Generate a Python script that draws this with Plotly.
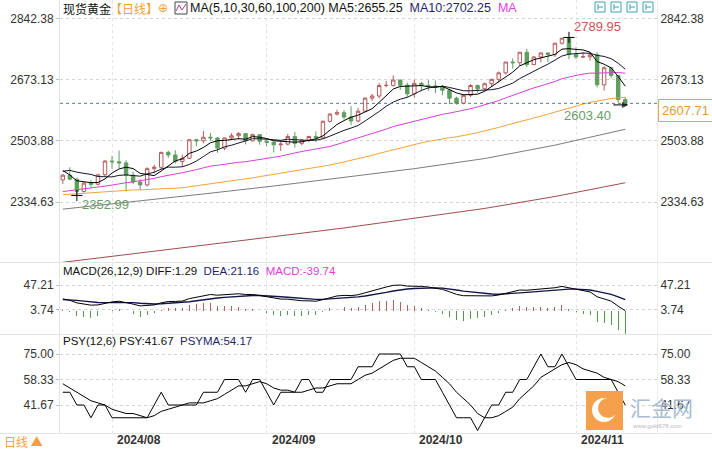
import numpy as np
import pandas as pd
import plotly.graph_objects as go

# ---------------- data ----------------
dates = ["2024-07-23", "2024-07-24", "2024-07-25", "2024-07-26", "2024-07-29", "2024-07-30", "2024-07-31",
         "2024-08-01", "2024-08-02", "2024-08-05", "2024-08-06", "2024-08-07", "2024-08-08", "2024-08-09",
         "2024-08-12", "2024-08-13", "2024-08-14", "2024-08-15", "2024-08-16", "2024-08-19", "2024-08-20",
         "2024-08-21", "2024-08-22", "2024-08-23", "2024-08-26", "2024-08-27", "2024-08-28", "2024-08-29",
         "2024-08-30",
         "2024-09-02", "2024-09-03", "2024-09-04", "2024-09-05", "2024-09-06", "2024-09-09", "2024-09-10",
         "2024-09-11", "2024-09-12", "2024-09-13", "2024-09-16", "2024-09-17", "2024-09-18", "2024-09-19",
         "2024-09-20", "2024-09-23", "2024-09-24", "2024-09-25", "2024-09-26", "2024-09-27", "2024-09-30",
         "2024-10-01", "2024-10-02", "2024-10-03", "2024-10-04", "2024-10-07", "2024-10-08", "2024-10-09",
         "2024-10-10", "2024-10-11", "2024-10-14", "2024-10-15", "2024-10-16", "2024-10-17", "2024-10-18",
         "2024-10-21", "2024-10-22", "2024-10-23", "2024-10-24", "2024-10-25", "2024-10-28", "2024-10-29",
         "2024-10-30", "2024-10-31",
         "2024-11-01", "2024-11-04", "2024-11-05", "2024-11-06", "2024-11-07", "2024-11-08", "2024-11-11",
         "2024-11-12"]

opens = [2396, 2409, 2398, 2364, 2387, 2384, 2410,
         2448, 2446, 2443, 2409, 2390, 2382, 2427, 2431, 2472, 2465, 2447, 2456, 2507, 2504, 2514,
         2512, 2484, 2512, 2518, 2524, 2504, 2521,
         2503, 2500, 2493, 2495, 2516, 2497, 2506, 2516, 2512, 2558, 2578, 2582, 2570, 2559, 2586,
         2622, 2628, 2657, 2657.5, 2672, 2658,
         2634, 2663, 2657, 2656, 2653, 2644, 2622, 2608, 2630, 2657, 2648, 2662, 2674, 2692, 2722,
         2720, 2749, 2715, 2736, 2747, 2743, 2774, 2788,
         2743, 2736, 2736.5, 2742, 2659, 2706, 2685, 2618]

highs = [2412, 2431, 2402, 2390, 2395, 2413, 2451,
         2462, 2477, 2450, 2419, 2398, 2431, 2438, 2474, 2477, 2478, 2466, 2509, 2510, 2531, 2526,
         2514, 2513, 2525, 2528, 2525, 2524, 2523,
         2507, 2504, 2503, 2523, 2529, 2509, 2518, 2530, 2560, 2581, 2590, 2589, 2600, 2595, 2625,
         2634, 2664, 2670, 2685, 2674, 2665,
         2673, 2667, 2672, 2671, 2659, 2649, 2626, 2633, 2661, 2660, 2665, 2676, 2696, 2722, 2732,
         2749, 2758, 2738, 2749, 2748, 2775, 2786, 2789.95,
         2763, 2750, 2750, 2749, 2710, 2709, 2686, 2625]

lows = [2385, 2395, 2352.99, 2361, 2375, 2380, 2405,
        2427, 2428, 2364, 2384, 2368, 2378, 2414, 2424, 2457, 2441, 2432, 2453, 2489, 2497, 2503,
        2471, 2478, 2506, 2507, 2494, 2502, 2493,
        2489, 2472, 2476, 2491, 2485, 2491, 2500, 2500, 2511, 2555, 2574, 2563, 2547, 2555, 2583,
        2614, 2621, 2652, 2654, 2645, 2625,
        2624, 2641, 2642, 2636, 2630, 2606, 2604, 2605, 2625, 2637, 2643, 2654, 2666, 2687, 2704,
        2712, 2708, 2713, 2721, 2722, 2736, 2770, 2730,
        2730, 2733, 2726, 2652, 2643, 2678, 2610, 2603.40]

closes = [2409, 2398, 2364, 2387, 2384, 2410, 2448,
          2446, 2443, 2409, 2390, 2382, 2427, 2431, 2472, 2465, 2447, 2456, 2507, 2504, 2514, 2512,
          2484, 2512, 2518, 2524, 2504, 2521, 2503,
          2500, 2493, 2495, 2516, 2497, 2506, 2516, 2512, 2558, 2578, 2582, 2570, 2559, 2586, 2622,
          2628, 2657, 2657.5, 2672, 2658, 2634,
          2663, 2657, 2656, 2653, 2644, 2622, 2608, 2630, 2657, 2648, 2662, 2674, 2692, 2722, 2720,
          2749, 2715, 2736, 2747, 2743, 2774, 2788, 2743,
          2736, 2736.5, 2742, 2659, 2706, 2685, 2618, 2607.71]

# closes before the visible window (2024-04-22 .. 2024-07-22), needed for the indicators
prior_closes = [2327, 2322, 2316, 2332, 2337, 2335, 2286,
                2320, 2303, 2301, 2323, 2314, 2309, 2346, 2360, 2336, 2358, 2386, 2376, 2415, 2425,
                2420, 2379, 2329, 2334, 2350, 2361, 2338, 2343, 2327,
                2350, 2327, 2355, 2376, 2294, 2311, 2316, 2324, 2304, 2333, 2319, 2330, 2328, 2360,
                2322, 2334, 2319, 2298, 2327, 2326,
                2332, 2330, 2356, 2356, 2392, 2359, 2364, 2371, 2415, 2411, 2422, 2469, 2459, 2445,
                2400, 2396]

# long moving averages (candle index -> value)
ma100_at = [0, 10, 20, 30, 40, 50, 60, 70, 80]
ma100_vals = [2315, 2335, 2357, 2379, 2402, 2427, 2455, 2492, 2536]
ma200_at = [0, 10, 20, 30, 40, 50, 60, 70, 80]
ma200_vals = [2168, 2191, 2215, 2239, 2263, 2289, 2317, 2350, 2388]

price_ticks = [2334.63, 2503.88, 2673.13, 2842.38]
macd_ticks = [3.74, 47.21]
psy_ticks = [41.67, 58.33, 75.00]
last_price = 2607.71
high_mark = 2789.95
low_mark = 2352.99
last_low_mark = 2603.40
ma5_label, ma10_label = 2655.25, 2702.25
diff_label, dea_label, macd_label = 1.29, 21.16, -39.74
psy_label, psyma_label = 41.67, 54.17

# ---------------- indicators ----------------
n_prior = len(prior_closes)
allc = pd.Series(prior_closes + closes, dtype=float)
def sma(n):
    return allc.rolling(n).mean().iloc[n_prior:].to_numpy()
ma5, ma10, ma30, ma60 = sma(5), sma(10), sma(30), sma(60)
ema12 = allc.ewm(span=12, adjust=False).mean()
ema26 = allc.ewm(span=26, adjust=False).mean()
diff_s = ema12 - ema26
dea_s = diff_s.ewm(span=9, adjust=False).mean()
macd_s = 2 * (diff_s - dea_s)
up_s = (allc.diff() > 0).astype(float)
psy_s = up_s.rolling(12).sum() / 12 * 100
psyma_s = psy_s.rolling(6).mean()
diff_v = diff_s.iloc[n_prior:].to_numpy()
dea_v = dea_s.iloc[n_prior:].to_numpy()
macd_v = macd_s.iloc[n_prior:].to_numpy()
psy_v = psy_s.iloc[n_prior:].to_numpy()
psyma_v = psyma_s.iloc[n_prior:].to_numpy()

xi = np.arange(len(closes))
dd = pd.to_datetime(dates)
month_idx = [i for i in range(1, len(dd)) if dd[i].month != dd[i - 1].month]
month_lbl = [dd[i].strftime("%Y/%m") for i in month_idx]

# ---------------- geometry helpers ----------------
W, H = 712, 450
L, R, T, B = 60, 55, 0, 16
PW, PH = W - L - R, H - T - B
def px(x):
    return (x - L) / PW
def py(y):
    return (PH - (y - T)) / PH

X_RANGE = [-0.4, 84.52]
MAIN_RANGE = [2168.86, 2893.55]
MACD_RANGE = [-40.45, 86.57]
PSY_RANGE = [22.72, 87.42]

UP = "#b75b5b"
DN = "#5f9e5f"
NUM_FONT = "Liberation Sans, Arial, sans-serif"
CJK_FONT = "Noto Sans CJK SC, sans-serif"
GRID = "#d4d4d4"
NAVY = "#1f1f6e"
MAG = "#e040e0"
SP = "\u00a0"

fig = go.Figure()

fig.add_trace(go.Candlestick(
    x=xi, open=opens, high=highs, low=lows, close=closes,
    increasing=dict(line=dict(color=UP, width=1), fillcolor="white"),
    decreasing=dict(line=dict(color=DN, width=1), fillcolor=DN),
    whiskerwidth=0, hoverinfo="skip", xaxis="x", yaxis="y"))

fig.add_trace(go.Scatter(x=ma200_at, y=ma200_vals, mode="lines", line=dict(color="#a24c4c", width=1),
                         hoverinfo="skip", xaxis="x", yaxis="y"))
fig.add_trace(go.Scatter(x=ma100_at, y=ma100_vals, mode="lines", line=dict(color="#7d7d7d", width=1),
                         hoverinfo="skip", xaxis="x", yaxis="y"))
fig.add_trace(go.Scatter(x=xi, y=ma60, mode="lines", line=dict(color="#efa43a", width=1),
                         hoverinfo="skip", xaxis="x", yaxis="y"))
fig.add_trace(go.Scatter(x=xi, y=ma30, mode="lines", line=dict(color="#d63fd6", width=1),
                         hoverinfo="skip", xaxis="x", yaxis="y"))
fig.add_trace(go.Scatter(x=xi, y=ma10, mode="lines", line=dict(color="#161630", width=1),
                         hoverinfo="skip", xaxis="x", yaxis="y"))
fig.add_trace(go.Scatter(x=xi, y=ma5, mode="lines", line=dict(color="#000000", width=1),
                         hoverinfo="skip", xaxis="x", yaxis="y"))

# high / low markers
hi_i = int(np.argmax(highs))
lo_i = int(np.argmin(lows))
fig.add_trace(go.Scatter(x=[hi_i, lo_i], y=[highs[hi_i], lows[lo_i]], mode="markers",
                         marker=dict(symbol="cross-thin", size=8, line=dict(color="#000", width=1)),
                         hoverinfo="skip", xaxis="x", yaxis="y"))
last_i = len(closes) - 1
fig.add_trace(go.Scatter(x=[last_i - 1.6, last_i + 0.3], y=[last_low_mark, last_low_mark], mode="lines+markers",
                         line=dict(color="#000", width=1),
                         marker=dict(symbol=["line-ns", "arrow-right"], size=[1, 5], color="#000",
                                     line=dict(color="#000", width=1)),
                         hoverinfo="skip", xaxis="x", yaxis="y"))
# invisible trace for right-hand price labels
fig.add_trace(go.Scatter(x=[0], y=[price_ticks[0]], mode="markers", marker=dict(opacity=0),
                         hoverinfo="skip", xaxis="x", yaxis="y4"))

# MACD panel
fig.add_trace(go.Bar(x=xi, y=macd_v, width=0.14,
                     marker=dict(color=["#b06262" if v >= 0 else "#4f9a4f" for v in macd_v], line=dict(width=0)),
                     hoverinfo="skip", xaxis="x2", yaxis="y2"))
fig.add_trace(go.Scatter(x=xi, y=dea_v, mode="lines", line=dict(color="#14144a", width=1.4),
                         hoverinfo="skip", xaxis="x2", yaxis="y2"))
fig.add_trace(go.Scatter(x=xi, y=diff_v, mode="lines", line=dict(color="#000000", width=1),
                         hoverinfo="skip", xaxis="x2", yaxis="y2"))
fig.add_trace(go.Scatter(x=[0], y=[macd_ticks[0]], mode="markers", marker=dict(opacity=0),
                         hoverinfo="skip", xaxis="x2", yaxis="y5"))

# PSY panel
fig.add_trace(go.Scatter(x=xi, y=psyma_v, mode="lines", line=dict(color="#000000", width=1),
                         hoverinfo="skip", xaxis="x3", yaxis="y3"))
fig.add_trace(go.Scatter(x=xi, y=psy_v, mode="lines", line=dict(color="#000000", width=1),
                         hoverinfo="skip", xaxis="x3", yaxis="y3"))
fig.add_trace(go.Scatter(x=[0], y=[psy_ticks[0]], mode="markers", marker=dict(opacity=0),
                         hoverinfo="skip", xaxis="x3", yaxis="y6"))

tickfont = dict(family=NUM_FONT, size=12, color="#333333")
def xax(anchor):
    return dict(domain=[0, 1], anchor=anchor, range=X_RANGE, tickvals=month_idx, showticklabels=False,
                showgrid=True, gridcolor="#e3e3e3", griddash="dot", gridwidth=1, zeroline=False,
                ticks="", showline=False, fixedrange=True, rangeslider=dict(visible=False))
def yleft(dom, rng, tv, anchor):
    return dict(domain=dom, range=rng, tickvals=tv, ticktext=["%.2f" % v for v in tv], anchor=anchor,
                tickfont=tickfont, ticks="outside", ticklen=3, tickcolor="#bbbbbb",
                showgrid=True, gridcolor=GRID, griddash="dot", gridwidth=1, zeroline=False,
                showline=True, linecolor="#e2e2e2", fixedrange=True)
def yright(over, rng, tv, anchor):
    return dict(overlaying=over, side="right", range=rng, tickvals=tv, ticktext=["%.2f" % v for v in tv],
                anchor=anchor, tickfont=tickfont, ticks="", showgrid=False, zeroline=False,
                showline=True, linecolor="#ececec", fixedrange=True)

dom_main = [py(262), 1]
dom_macd = [py(334), py(263)]
dom_psy = [0, py(335)]

annotations = []
def txt(x, y, s, color="#222222", size=12, family=NUM_FONT, xanchor="left"):
    annotations.append(dict(x=px(x), y=py(y), xref="paper", yref="paper", text=s, showarrow=False,
                            xanchor=xanchor, yanchor="middle", font=dict(color=color, size=size, family=family)))
def span(s, c):
    return '<span style="color:%s">%s</span>' % (c, s)

# header row
txt(61, 8, "现货黄金", "#111111", 12, CJK_FONT)
txt(108, 8, "【日线】", "#f0a13c", 12, CJK_FONT)
txt(156, 8, "⊕", "#f0a13c", 12, "DejaVu Sans")
txt(188, 8, "MA(5,10,30,60,100,200)" + SP + span("MA5:%.2f" % ma5_label, "#111111") + SP * 2
    + span("MA10:%.2f" % ma10_label, NAVY) + SP * 2 + span("MA", MAG), "#111111", 12.5)
# MACD header
txt(61, 271, "MACD(26,12,9)" + SP + "DIFF:%.2f" % diff_label + SP * 2 + span("DEA:%.2f" % dea_label, NAVY)
    + SP * 2 + span("MACD:%.2f" % macd_label, MAG), "#111111", 11.5)
# PSY header
txt(61, 341, "PSY(12,6)" + SP + "PSY:%.2f" % psy_label + SP * 2 + span("PSYMA:%.2f" % psyma_label, NAVY),
    "#111111", 11.5)
# bottom-left
txt(2, 442, "日线 ▲", "#f0a13c", 12, CJK_FONT)

# month labels
for i, lbl in zip(month_idx, month_lbl):
    annotations.append(dict(x=i, y=0, xref="x3", yref="paper", text="<b>%s</b>" % lbl, showarrow=False,
                            xanchor="left", yanchor="middle", xshift=3, yshift=-6,
                            font=dict(family=NUM_FONT, size=12, color="#333333")))

# high / low value labels
annotations.append(dict(x=hi_i, y=highs[hi_i], xref="x", yref="y", text="%.2f" % high_mark, showarrow=False,
                        xanchor="left", yanchor="bottom", xshift=3, yshift=1,
                        font=dict(family=NUM_FONT, size=13, color="#cf5454")))
annotations.append(dict(x=lo_i, y=lows[lo_i], xref="x", yref="y", text="%.2f" % low_mark, showarrow=False,
                        xanchor="left", yanchor="top", xshift=3, yshift=0,
                        font=dict(family=NUM_FONT, size=13, color="#6a9c6a")))
annotations.append(dict(x=last_i, y=last_low_mark, xref="x", yref="y", text="%.2f" % last_low_mark,
                        showarrow=False, xanchor="right", yanchor="top", xshift=-12, yshift=-1,
                        font=dict(family=NUM_FONT, size=13, color="#6a9c6a")))
# last price tag on the right axis
annotations.append(dict(x=1, y=last_price, xref="paper", yref="y", text="%.2f" % last_price, showarrow=False,
                        xanchor="left", yanchor="middle", xshift=1, yshift=-7,
                        bgcolor="white", bordercolor="#e9a84a", borderwidth=1, borderpad=3,
                        font=dict(family=NUM_FONT, size=13, color="#e39a36")))
# watermark text
txt(628, 407, "汇金网", "#a9bdd3", 21, CJK_FONT)
txt(630, 426, "www.gold678.com", "#b9b9b9", 6)

shapes = []
# last price dashed line
shapes.append(dict(type="line", xref="paper", yref="y", x0=0, x1=1, y0=last_price, y1=last_price,
                   line=dict(color="#4d7c98", width=1, dash="3px,3px")))
# panel separators
for yy in [262.5, 334.5, 433.5]:
    shapes.append(dict(type="line", xref="paper", yref="paper", x0=px(0), x1=px(712), y0=py(yy), y1=py(yy),
                       line=dict(color="#e4e4e4", width=1)))
# top-right toolbar squares
for x0 in [595, 611, 627, 643]:
    shapes.append(dict(type="rect", xref="paper", yref="paper", x0=px(x0), x1=px(x0 + 10), y0=py(12), y1=py(2),
                       line=dict(color="#3aa0b4", width=1), fillcolor="white"))
    shapes.append(dict(type="line", xref="paper", yref="paper", x0=px(x0 + 3), x1=px(x0 + 3), y0=py(10), y1=py(4),
                       line=dict(color="#3aa0b4", width=1)))
    shapes.append(dict(type="line", xref="paper", yref="paper", x0=px(x0 + 3), x1=px(x0 + 8), y0=py(7), y1=py(7),
                       line=dict(color="#3aa0b4", width=1)))
# small chart icon in header
shapes.append(dict(type="rect", xref="paper", yref="paper", x0=px(175), x1=px(187), y0=py(14), y1=py(2),
                   line=dict(color="#444444", width=1), fillcolor="white"))
shapes.append(dict(type="path", xref="paper", yref="paper",
                   path="M %f %f L %f %f L %f %f L %f %f" % (px(176), py(11), px(179), py(5), px(182), py(10), px(186), py(4)),
                   line=dict(color="#a040a0", width=1)))
# watermark logo
shapes.append(dict(type="rect", xref="paper", yref="paper", x0=px(586), x1=px(623), y0=py(430), y1=py(391),
                   line=dict(color="#f4a04c", width=0), fillcolor="#f4a04c", layer="above"))
shapes.append(dict(type="circle", xref="paper", yref="paper", x0=px(592), x1=px(616), y0=py(422), y1=py(398),
                   line=dict(width=0), fillcolor="white", layer="above"))
shapes.append(dict(type="circle", xref="paper", yref="paper", x0=px(598), x1=px(618), y0=py(418), y1=py(398),
                   line=dict(width=0), fillcolor="#f4a04c", layer="above"))

fig.update_layout(
    width=W, height=H, margin=dict(l=L, r=R, t=T, b=B, pad=0),
    paper_bgcolor="white", plot_bgcolor="white", showlegend=False, hovermode=False,
    bargap=0,
    xaxis=xax("y"), xaxis2=xax("y2"), xaxis3=xax("y3"),
    yaxis=yleft(dom_main, MAIN_RANGE, price_ticks, "x"),
    yaxis2=yleft(dom_macd, MACD_RANGE, macd_ticks, "x2"),
    yaxis3=yleft(dom_psy, PSY_RANGE, psy_ticks, "x3"),
    yaxis4=yright("y", MAIN_RANGE, price_ticks, "x"),
    yaxis5=yright("y2", MACD_RANGE, macd_ticks, "x2"),
    yaxis6=yright("y3", PSY_RANGE, psy_ticks, "x3"),
    annotations=annotations, shapes=shapes,
)

fig.write_html("out.html", config={"displayModeBar": False, "staticPlot": True},
               post_script="document.body.style.margin='0';document.body.style.overflow='hidden';")
